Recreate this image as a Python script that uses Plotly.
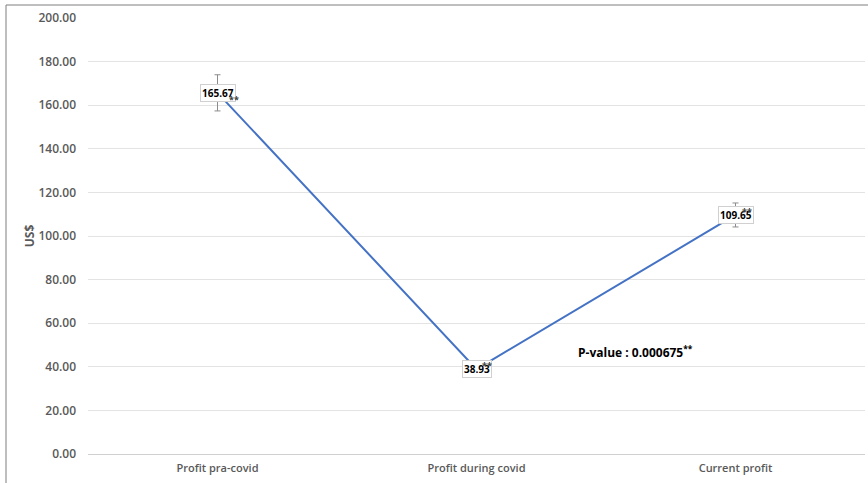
import plotly.graph_objects as go

categories = ["Profit pra-covid", "Profit during covid", "Current profit"]
values = [165.67, 38.93, 109.65]
errors = [8.3, 2.0, 5.5]
significance = ["**", "**", "**"]
y_ticks = [0, 20, 40, 60, 80, 100, 120, 140, 160, 180, 200]
p_value_text = "P-value : 0.000675<sup>**</sup>"

font_fam = "Open Sans, Liberation Sans, sans-serif"
tick_color = "#595959"

fig = go.Figure()
fig.add_trace(go.Scatter(
    x=categories, y=values, mode="lines",
    line=dict(color="#4472C4", width=2),
    error_y=dict(type="data", array=errors, visible=True, color="#8c8c8c",
                 thickness=1, width=3),
    hoverinfo="skip", showlegend=False,
))

annotations = []
for c, v, s in zip(categories, values, significance):
    annotations.append(dict(
        x=c, y=v, xref="x", yref="y", text="<b>%.2f</b>" % v,
        showarrow=False, bgcolor="white", bordercolor="#d0d0d0", borderwidth=1,
        borderpad=1, font=dict(family=font_fam, size=10, color="black"),
    ))
offsets = [(16, -7), (10, 4), (11, 3)]
for c, v, s, (dx, dy) in zip(categories, values, significance, offsets):
    annotations.append(dict(
        x=c, y=v, xref="x", yref="y", text="<b>%s</b>" % s,
        showarrow=False, xshift=dx, yshift=dy,
        font=dict(family=font_fam, size=9, color="#404040"),
    ))
annotations.append(dict(
    x=1.385, y=47, xref="x", yref="y", text="<b>" + p_value_text + "</b>",
    showarrow=False, xanchor="left", yanchor="middle",
    font=dict(family=font_fam, size=12, color="black"),
))

L, R, T, B = 88, 3, 18, 29
pw = 868 - L - R
ph = 483 - T - B
shapes = [
    dict(type="line", xref="paper", yref="paper",
         x0=(6 - L) / pw, x1=(6 - L) / pw, y0=1 + (T - 5) / ph, y1=-(B) / ph,
         line=dict(color="#7f7f7f", width=1)),
    dict(type="line", xref="paper", yref="paper",
         x0=(6 - L) / pw, x1=1 + R / pw, y0=1 + (T - 5) / ph, y1=1 + (T - 5) / ph,
         line=dict(color="#7f7f7f", width=1)),
]

fig.update_layout(
    width=868, height=483,
    margin=dict(l=L, r=R, t=T, b=B),
    paper_bgcolor="white", plot_bgcolor="white",
    annotations=annotations, shapes=shapes,
    xaxis=dict(type="category", categoryorder="array", categoryarray=categories,
               range=[-0.5, 2.5], showgrid=False, showline=False, ticks="",
               ticklabelstandoff=6,
               tickfont=dict(family=font_fam, size=11, color=tick_color, weight=600)),
    yaxis=dict(range=[0, 200], tickvals=y_ticks,
               ticktext=["%.2f" % t for t in y_ticks],
               showgrid=True, gridcolor="#e3e3e3", gridwidth=1,
               zeroline=True, zerolinecolor="#d0d0d0", zerolinewidth=1,
               showline=False, ticks="", ticklen=0, ticklabelstandoff=11,
               tickfont=dict(family=font_fam, size=12, color=tick_color, weight=600),
               title=dict(text="<b>US$</b>", standoff=0,
                          font=dict(family=font_fam, size=12, color=tick_color))),
)

fig.write_html("out.html")
